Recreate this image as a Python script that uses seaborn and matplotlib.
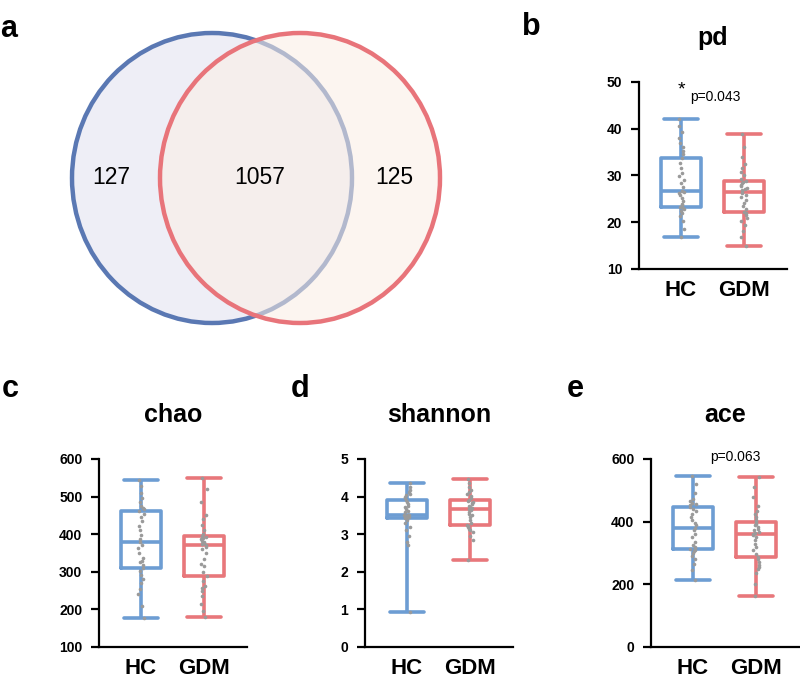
import numpy as np
import pandas as pd
import seaborn as sns
import matplotlib.pyplot as plt
from matplotlib.patches import Ellipse

sns.set_theme(style="white")
plt.rcParams['font.family'] = ['Liberation Sans', 'DejaVu Sans']
plt.rcParams['text.color'] = 'black'
plt.rcParams['xtick.color'] = 'black'
plt.rcParams['ytick.color'] = 'black'

# Venn counts: HC only, shared, GDM only
venn_counts = [127, 1057, 125]

groups = ["HC", "GDM"]

pd_hc = [16.8, 18.5, 20.2, 21.4, 22.0, 22.5, 22.9, 23.1, 23.3, 23.6, 24.0, 24.5, 25.2, 25.8, 26.2, 26.5, 26.7,
         27.5, 28.3, 29.0, 29.8, 30.6, 31.5, 32.6, 33.7, 34.5, 35.2, 36.0, 37.0, 38.0, 39.2, 40.5, 42.1]
pd_gdm = [14.9, 16.8, 18.2, 19.4, 20.3, 21.0, 21.6, 22.0, 22.2, 22.8, 23.5, 24.1, 24.8, 25.4, 25.9, 26.2, 26.5,
          26.8, 27.1, 27.4, 27.7, 28.0, 28.3, 28.6, 28.8, 29.3, 30.0, 30.8, 31.6, 32.5, 34.0, 36.2, 38.9]
chao_hc = [177, 210, 240, 255, 270, 282, 292, 302, 310, 318, 325, 330, 338, 350, 362, 372, 379,
           388, 398, 410, 422, 435, 446, 455, 462, 466, 470, 475, 485, 495, 510, 528, 544]
chao_gdm = [180, 195, 215, 235, 250, 256, 262, 275, 289, 300, 315, 322, 335, 350, 360, 366, 371,
            374, 377, 380, 383, 386, 389, 392, 395, 400, 410, 425, 440, 450, 485, 520, 549]
shannon_hc = [0.93, 2.70, 2.80, 2.95, 3.10, 3.20, 3.30, 3.38, 3.43, 3.45, 3.46, 3.47, 3.48, 3.49, 3.50, 3.50, 3.51,
              3.58, 3.63, 3.68, 3.72, 3.76, 3.80, 3.85, 3.90, 3.95, 4.00, 4.03, 4.07, 4.12, 4.18, 4.25, 4.36]
shannon_gdm = [2.31, 2.85, 2.95, 3.05, 3.10, 3.15, 3.18, 3.21, 3.24, 3.30, 3.38, 3.45, 3.50, 3.55, 3.60, 3.64, 3.67,
               3.70, 3.73, 3.76, 3.79, 3.82, 3.85, 3.88, 3.91, 3.96, 4.02, 4.08, 4.13, 4.18, 4.25, 4.35, 4.47]
ace_hc = [214, 245, 265, 282, 292, 300, 305, 310, 313, 316, 320, 325, 335, 350, 362, 372, 380,
          388, 396, 405, 415, 425, 435, 442, 447, 452, 456, 460, 465, 472, 490, 520, 546]
ace_gdm = [163, 200, 235, 248, 255, 262, 272, 280, 287, 298, 310, 320, 330, 342, 350, 356, 361,
           364, 368, 372, 376, 382, 388, 394, 399, 405, 415, 425, 435, 450, 480, 510, 543]

blue = "#6d9dd3"
red = "#e8777b"
W, H = 800, 679

fig = plt.figure(figsize=(8, 6.79), dpi=100)

#%% panel a - venn
axv = fig.add_axes([0, 0, 1, 1])
axv.set_xlim(0, W)
axv.set_ylim(H, 0)
axv.axis("off")
axv.add_patch(Ellipse((212, 178), 280, 290, facecolor="#eeeef6", edgecolor="#5a78b3", lw=3.2))
axv.add_patch(Ellipse((300, 178), 280, 290, facecolor="#fbeee4", edgecolor="none", alpha=0.55))
axv.add_patch(Ellipse((300, 178), 280, 290, facecolor="none", edgecolor="#e8747a", lw=3.2))
for xx, n in zip([111, 260, 394], venn_counts):
    axv.text(xx, 177, str(n), ha="center", va="center", fontsize=16.5)


def box_panel(rect, hc, gdm, title, ylim, yticks):
    ax = fig.add_axes(rect)
    df = pd.DataFrame({"group": ["HC"] * len(hc) + ["GDM"] * len(gdm), "value": hc + gdm})
    sns.boxplot(data=df, x="group", y="value", hue="group", order=groups, hue_order=groups,
                palette=[blue, red], fill=False, whis=(0, 100), width=0.63, linewidth=2.6,
                showfliers=False, legend=False, ax=ax, capwidths=0.54)
    sns.stripplot(data=df, x="group", y="value", order=groups, color="#9a9a9a", size=2.6,
                  jitter=0.05, ax=ax)
    ax.set_xlim(-0.667, 1.683)
    ax.set_ylim(*ylim)
    ax.set_yticks(yticks)
    ax.set_xlabel("")
    ax.set_ylabel("")
    sns.despine(ax=ax)
    for s in ["left", "bottom"]:
        ax.spines[s].set_linewidth(1.6)
        ax.spines[s].set_color("black")
    ax.tick_params(axis="y", direction="out", length=6, width=1.6, left=True, pad=6, labelsize=10)
    ax.tick_params(axis="x", length=0, pad=8, labelsize=16)
    for lab in ax.get_xticklabels() + ax.get_yticklabels():
        lab.set_fontweight("bold")
    ax.text(0.5, 1.235, title, transform=ax.transAxes, ha="center", va="center",
            fontsize=18, fontweight="bold")
    return ax


ax_b = box_panel([639 / W, 1 - 269 / H, 148 / W, 187 / H], pd_hc, pd_gdm, "pd", (10, 50), [10, 20, 30, 40, 50])
ax_b.text(0, 48.4, "*", ha="center", va="center", fontsize=14)
ax_b.text(0.14, 46.8, "p=0.043", ha="left", va="center", fontsize=10)

ax_c = box_panel([99 / W, 1 - 647 / H, 148 / W, 188 / H], chao_hc, chao_gdm, "chao", (100, 600),
                 [100, 200, 300, 400, 500, 600])
ax_d = box_panel([365 / W, 1 - 647 / H, 148 / W, 188 / H], shannon_hc, shannon_gdm, "shannon", (0, 5),
                 [0, 1, 2, 3, 4, 5])
ax_e = box_panel([651 / W, 1 - 647 / H, 148 / W, 188 / H], ace_hc, ace_gdm, "ace", (0, 600), [0, 200, 400, 600])
ax_e.text(0.667, 606, "p=0.063", ha="center", va="center", fontsize=10)

for lab, x, y in [("a", 9, 37), ("b", 531, 35), ("c", 10, 397), ("d", 300, 397), ("e", 575, 397)]:
    fig.text(x / W, 1 - y / H, lab, ha="center", va="baseline", fontsize=22, fontweight="bold")

plt.savefig("out.png", dpi=100)
